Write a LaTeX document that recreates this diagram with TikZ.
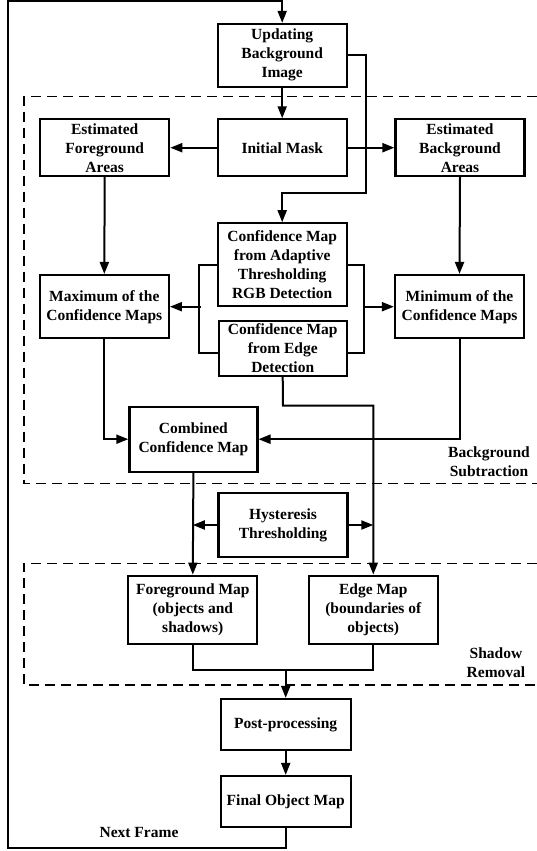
\documentclass[tikz,border=0pt]{standalone}
\usepackage{fontspec}
\setmainfont{Liberation Serif}
\usetikzlibrary{arrows.meta,calc}
\tikzset{
  blk/.style={draw, line width=2.2pt, align=center, inner sep=0pt,
    minimum width=129pt, font=\fontsize{15.5}{19}\selectfont\bfseries},
  con/.style={line width=2pt},
  arr/.style={line width=2pt, -{Triangle[length=12pt,width=9pt]}},
  grp/.style={line width=1.5pt, dash pattern=on 10pt off 6pt},
  lbl/.style={align=center, inner sep=0pt, font=\fontsize{15.5}{19}\selectfont\bfseries}
}
\begin{document}
\begin{tikzpicture}[x=1pt,y=-1pt]
\useasboundingbox (0,0) rectangle (537,851);
% group frames
\draw[grp] (537,96.7) -- (24,96.7) -- (24,483.3) -- (537,483.3);
\draw[grp] (537,563.3) -- (24,563.3) -- (24,685) -- (537,685);
% nodes
\node[blk, minimum height=62.7pt] (upd) at (282.2,55.3) {Updating\\Background\\Image};
\node[blk, minimum height=56.7pt] (init) at (282.2,147.7) {Initial Mask};
\node[blk, minimum height=56.7pt] (efg) at (104.7,147.7) {Estimated\\Foreground\\Areas};
\node[blk, minimum height=56.7pt] (ebg) at (460,147.7) {Estimated\\Background\\Areas};
\node[blk, minimum height=82.4pt] (conf1) at (282.2,264.5) {Confidence Map\\from Adaptive\\Thresholding\\RGB Detection};
\node[blk, minimum height=54.7pt, minimum width=128pt] (conf2) at (282.7,348.3) {Confidence Map\\from Edge\\Detection};
\node[blk, minimum height=63.3pt] (max) at (104.3,306.7) {Maximum of the\\Confidence Maps};
\node[blk, minimum height=63.3pt] (min) at (459.5,306.7) {Minimum of the\\Confidence Maps};
\node[blk, minimum height=65pt, minimum width=128pt] (comb) at (193.4,439.2) {Combined\\Confidence Map};
\node[blk, minimum height=64.6pt] (hyst) at (283,525) {Hysteresis\\Thresholding};
\node[blk, minimum height=68.6pt] (fgm) at (192.8,610) {Foreground Map\\(objects and\\shadows)};
\node[blk, minimum height=68.6pt] (edm) at (373.3,610) {Edge Map\\(boundaries of\\objects)};
\node[blk, minimum height=51pt, minimum width=130pt] (post) at (285.7,724.5) {Post-processing};
\node[blk, minimum height=51pt, minimum width=130pt] (fin) at (285.7,801.5) {Final Object Map};
% labels
\node[lbl] (lbgs) at (489,461.5) {Background\\Subtraction};
\node[lbl] (lsr) at (496,662.7) {Shadow\\Removal};
\node[lbl] (lnf) at (139,832.7) {Next Frame};
% coordinates
\coordinate (loopA) at (7.5,848.3);
\coordinate (loopB) at (7.5,1.2);
\coordinate (bl) at (200.8,306.7);
\coordinate (br) at (362.5,306.7);
\coordinate (j) at (285.7,669.5);
% connectors
\draw[arr] (fin.south) -- (fin.south |- loopA) -- (loopA) -- (loopB) -- (upd.north |- loopB) -- (upd.north);
\draw[arr] (upd.south) -- (init.north);
\draw[arr] (upd.east) -- (366,55.3) -- (366,192.7) -- (282.2,192.7) -- (conf1.north);
\draw[arr] (init.west) -- (efg.east);
\draw[arr] (init.east) -- (ebg.west);
\draw[arr] (efg.south) -- (max.north);
\draw[arr] (ebg.south) -- (min.north);
\draw[con] (conf1.west) -| ($(conf2.west)+(-18.2,5)$) -- ($(conf2.west)+(0,5)$);
\draw[con] (conf1.east) -| ($(conf2.east)+(16.5,5)$) -- ($(conf2.east)+(0,5)$);
\draw[arr] (bl) -- (max.east);
\draw[arr] (br) -- (min.west);
\draw[arr] (conf2.south) -- (283,405.7) -| (edm.north);
\draw[arr] (max.south) |- (comb.west);
\draw[arr] (min.south) |- (comb.east);
\draw[arr] (comb.south) -- (fgm.north);
\draw[arr] (hyst.west) -- (hyst.west -| fgm.north);
\draw[arr] (hyst.east) -- (hyst.east -| edm.north);
\draw[con] (fgm.south) |- (j) -| (edm.south);
\draw[arr] (j) -- (post.north);
\draw[arr] (post.south) -- (fin.north);
\end{tikzpicture}
\end{document}
